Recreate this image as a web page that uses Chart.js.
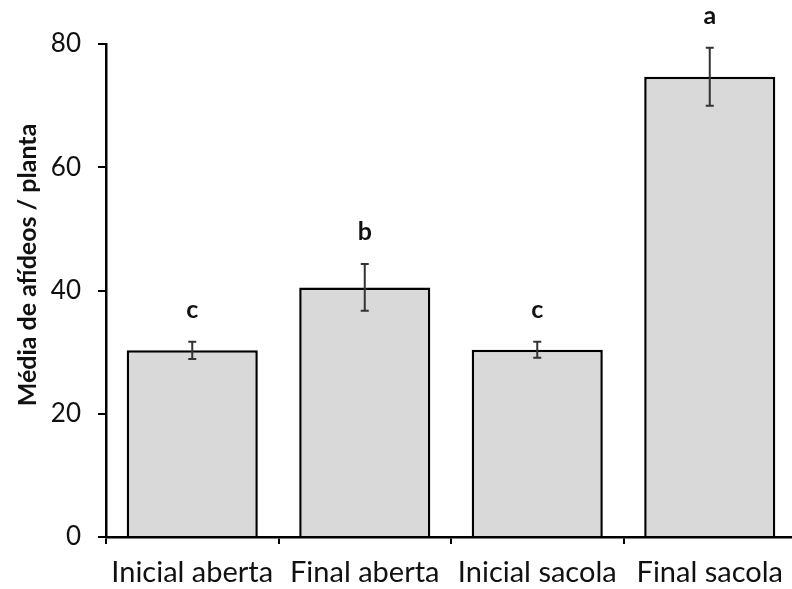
<!DOCTYPE html>
<html>
<head>
<meta charset="utf-8">
<script src="https://cdn.jsdelivr.net/npm/chart.js@4/dist/chart.umd.min.js"></script>
<style>
  html,body{margin:0;padding:0;background:#fff;overflow:hidden;}
  #wrap{position:absolute;left:0;top:0;width:800px;height:589px;}
</style>
</head>
<body>
<div id="wrap"><canvas id="c" width="800" height="589"></canvas></div>
<script>
const categories = ["Inicial aberta", "Final aberta", "Inicial sacola", "Final sacola"];
const means = [30.3, 40.5, 30.4, 74.7];
const errors = [1.4, 3.8, 1.3, 4.7];
const letters = ["c", "b", "c", "a"];
const yTicks = [0, 20, 40, 60, 80];
const yTitle = "Média de afídeos / planta";

const FONT = "Lato, 'Open Sans', sans-serif";

const errorBarPlugin = {
  id: 'errorBars',
  afterDatasetsDraw(chart) {
    const ctx = chart.ctx;
    const meta = chart.getDatasetMeta(0);
    const y = chart.scales.y;
    ctx.save();
    meta.data.forEach((bar, i) => {
      const x = bar.x;
      const top = y.getPixelForValue(means[i] + errors[i]);
      const bot = y.getPixelForValue(means[i] - errors[i]);
      ctx.strokeStyle = '#333';
      ctx.lineWidth = 2;
      ctx.beginPath();
      ctx.moveTo(x, top); ctx.lineTo(x, bot);
      ctx.moveTo(x - 4, top); ctx.lineTo(x + 4, top);
      ctx.moveTo(x - 4, bot); ctx.lineTo(x + 4, bot);
      ctx.stroke();
      ctx.fillStyle = '#111';
      ctx.font = "bold 25px " + FONT;
      ctx.textAlign = 'center';
      ctx.textBaseline = 'middle';
      ctx.fillText(letters[i], x, top - 32);
    });
    ctx.restore();
  }
};

const yTitlePlugin = {
  id: 'yTitle',
  afterDraw(chart) {
    const ctx = chart.ctx;
    ctx.save();
    ctx.translate(28, 265);
    ctx.rotate(-Math.PI / 2);
    ctx.fillStyle = '#111';
    ctx.font = "bold 25px " + FONT;
    ctx.textAlign = 'center';
    ctx.textBaseline = 'middle';
    ctx.fillText(yTitle, 0, 0);
    ctx.restore();
  }
};

new Chart(document.getElementById('c'), {
  type: 'bar',
  data: {
    labels: categories,
    datasets: [{
      data: means,
      backgroundColor: '#d9d9d9',
      borderColor: '#000000',
      borderWidth: 2.5,
      borderSkipped: 'bottom',
      categoryPercentage: 0.76,
      barPercentage: 1.0
    }]
  },
  options: {
    responsive: false,
    animation: false,
    layout: { padding: { top: 44, right: 4, bottom: 0, left: 0 } },
    plugins: { legend: { display: false }, tooltip: { enabled: false } },
    scales: {
      x: {
        offset: true,
        grid: { offset: true, drawOnChartArea: false, drawTicks: true, tickLength: 7, color: '#000', lineWidth: 2 },
        border: { color: '#000', width: 2.5 },
        ticks: { color: '#111', font: { family: FONT, size: 29 }, padding: 11, maxRotation: 0, autoSkip: false },
        afterFit(s) { s.height = 52; }
      },
      y: {
        min: 0, max: 80,
        afterBuildTicks(s) { s.ticks = yTicks.map(v => ({ value: v })); },
        grid: { drawOnChartArea: false, drawTicks: true, tickLength: 8, color: '#000', lineWidth: 2 },
        border: { color: '#000', width: 2.5 },
        ticks: { color: '#111', font: { family: FONT, size: 26 }, padding: 17 },
        afterFit(s) { s.width = 106; }
      }
    }
  },
  plugins: [errorBarPlugin, yTitlePlugin]
});
</script>
</body>
</html>
